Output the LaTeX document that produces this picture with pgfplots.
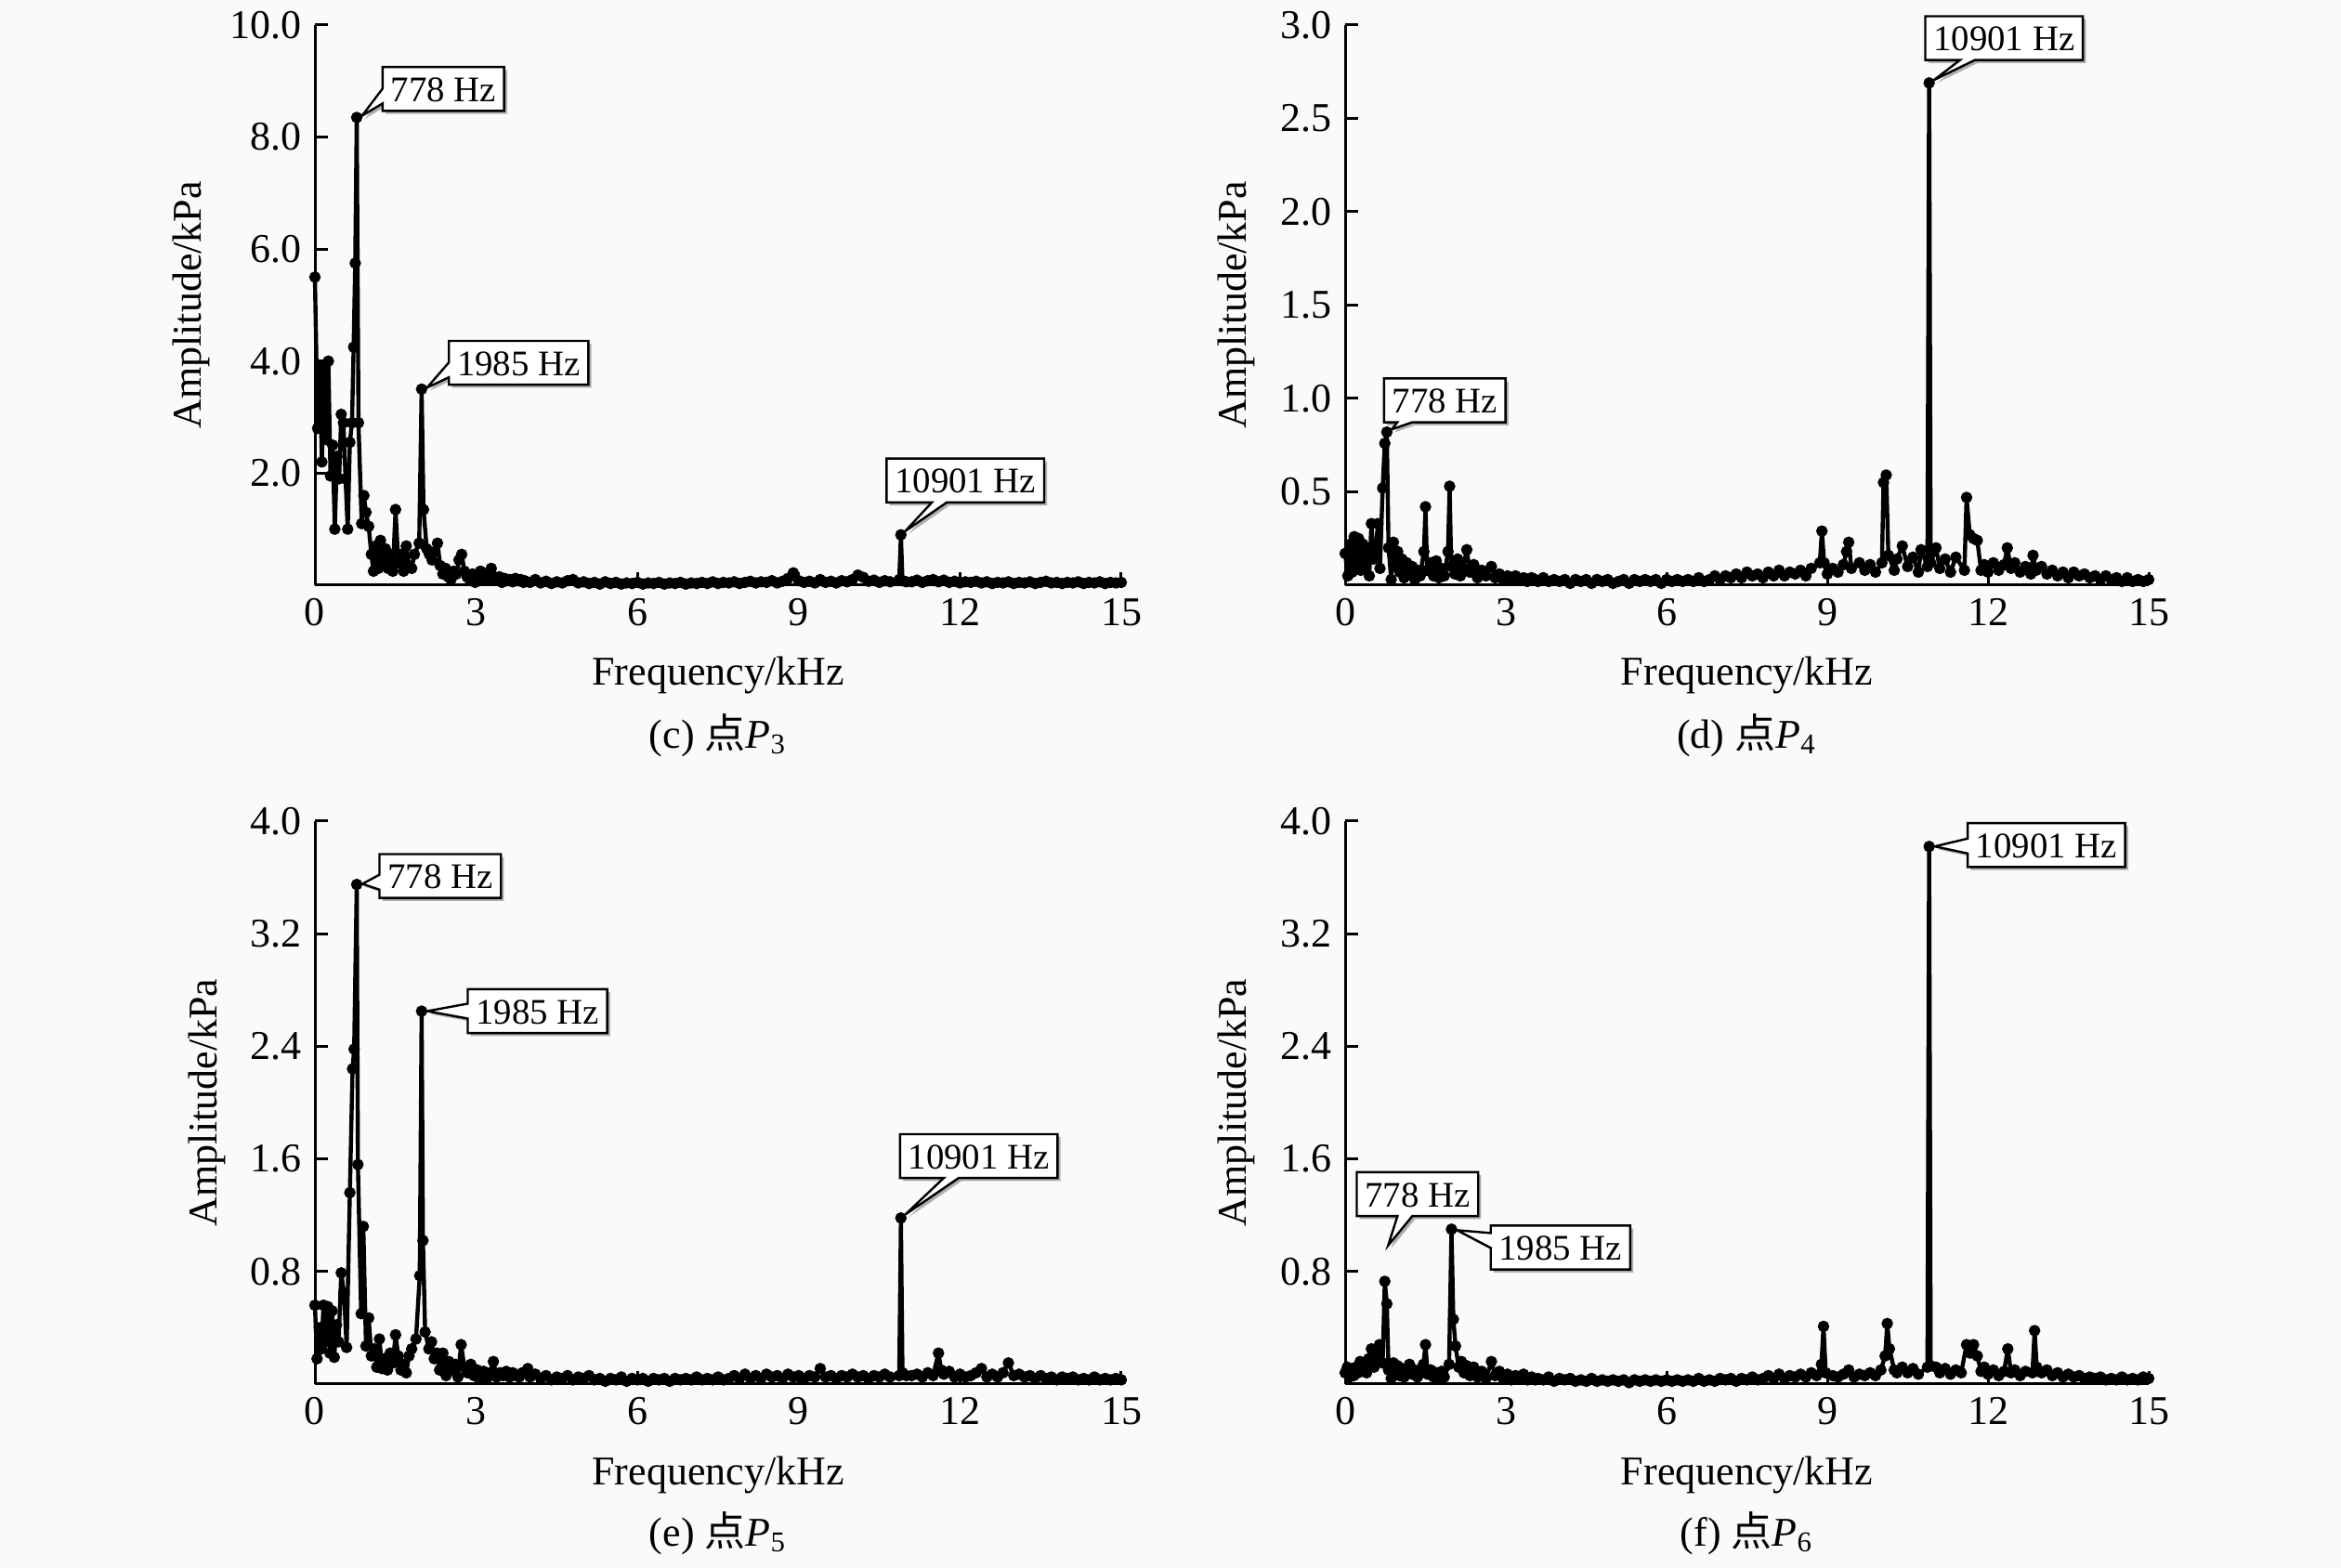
\documentclass[border=0pt]{standalone}
\usepackage{fontspec}
\setmainfont{Liberation Serif}
\newfontfamily\cjk{Noto Sans CJK SC}
\usepackage{pgfplots}
\pgfplotsset{compat=1.18}
\usetikzlibrary{shapes.callouts,shadows}
\newcommand\fs{\fontsize{11}{13}\selectfont}
\pgfplotsset{
  spec/.style={
    scale only axis, axis lines=left, axis line style={-, line width=0.75pt},
    tick align=inside, major tick length=3.5pt, tick style={line width=0.75pt, black},
    xmin=0, xmax=15, ymin=0, xtick={0,3,...,15},
    tick label style={font=\fs}, label style={font=\fs},
    /pgf/number format/assume math mode=true,
    yticklabel style={/pgf/number format/.cd, fixed, fixed zerofill, precision=1, assume math mode=true},
    xticklabel style={/pgf/number format/assume math mode=true},
    xlabel={Frequency/kHz}, ylabel={Amplitude/kPa},
    xlabel style={at={(axis description cs:0.5,-0.161)}, anchor=center},
    clip=false,
  },
  sp/.style={black, line width=1.1pt, mark=*, mark size=1.3pt, mark options={line width=0.5pt, fill=black}, line join=round},
}
\tikzset{callbox/.style={rectangle callout, draw=black, line width=0.6pt, fill=white,
  inner xsep=2.2pt, inner ysep=2.5pt, text height=6.8pt, text depth=0pt,
  font=\fontsize{9.7}{11}\selectfont, callout pointer width=4pt, callout pointer shorten=1.5pt,
  drop shadow={shadow xshift=0.8pt, shadow yshift=-0.8pt, fill=black!60}}}
\begin{document}
\begin{tikzpicture}
\fill[black!2] (0,0) rectangle (630pt,422pt);
\useasboundingbox (0,0) rectangle (630pt,422pt);
% ---------------- (c) P3
\begin{axis}[spec, at={(84.75pt,264.5pt)}, anchor=south west, width=217pt, height=150.75pt,
  ymax=10, ytick={2,4,6,8,10},
  ylabel style={at={(axis description cs:-0.153,0.5)}, anchor=center}]
\addplot[sp] coordinates {
(0.00,5.50) (0.05,2.80) (0.09,3.90) (0.13,2.20) (0.17,3.85) (0.21,2.60) (0.25,4.00) (0.29,1.95)
(0.33,2.50) (0.37,1.00) (0.41,2.30) (0.45,1.90) (0.49,3.05) (0.53,2.90) (0.57,1.90) (0.61,1.00)
(0.65,2.55) (0.69,2.90) (0.72,4.25) (0.75,5.75) (0.778,8.35) (0.81,2.90) (0.87,1.10) (0.91,1.60)
(0.95,1.30) (1.00,1.05) (1.05,0.55) (1.09,0.25) (1.13,0.70) (1.18,0.30) (1.22,0.80) (1.27,0.45)
(1.31,0.65) (1.36,0.30) (1.40,0.55) (1.45,0.25) (1.50,1.35) (1.55,0.40) (1.60,0.55) (1.65,0.25)
(1.70,0.70) (1.75,0.35) (1.80,0.30) (1.85,0.55) (1.94,0.75) (1.985,3.50) (2.02,1.35) (2.08,0.65)
(2.13,0.55) (2.18,0.45) (2.23,0.60) (2.28,0.75) (2.33,0.35) (2.38,0.20) (2.43,0.30) (2.48,0.15)
(2.53,0.10) (2.58,0.25) (2.63,0.20) (2.68,0.45) (2.73,0.55) (2.78,0.25) (2.83,0.15) (2.88,0.10)
(2.93,0.20) (2.98,0.05) (3.03,0.15) (3.08,0.25) (3.13,0.10) (3.18,0.20) (3.23,0.10) (3.28,0.30)
(3.33,0.15) (3.38,0.10) (3.43,0.15) (3.48,0.05) (3.53,0.12) (3.58,0.08) (3.63,0.10) (3.68,0.06)
(3.73,0.12) (3.78,0.08) (3.83,0.10) (3.88,0.05)
(3.9,0.08) (4.0,0.05) (4.1,0.10) (4.2,0.04) (4.3,0.07) (4.4,0.03) (4.5,0.06) (4.6,0.04) (4.7,0.08)
(4.8,0.10) (4.9,0.04) (5.0,0.06) (5.1,0.03) (5.2,0.05) (5.3,0.02) (5.4,0.06) (5.5,0.03) (5.6,0.05)
(5.7,0.02) (5.8,0.04) (5.9,0.03) (6.0,0.05) (6.1,0.02) (6.2,0.04) (6.3,0.03) (6.4,0.05) (6.5,0.02)
(6.6,0.04) (6.7,0.03) (6.8,0.05) (6.9,0.02) (7.0,0.04) (7.1,0.03) (7.2,0.05) (7.3,0.03) (7.4,0.06)
(7.5,0.03) (7.6,0.05) (7.7,0.04) (7.8,0.06) (7.9,0.03) (8.0,0.05) (8.1,0.07) (8.2,0.04) (8.3,0.06)
(8.4,0.05) (8.5,0.08) (8.6,0.04) (8.7,0.07) (8.8,0.12) (8.9,0.22) (9.0,0.08) (9.1,0.05) (9.2,0.07)
(9.3,0.04) (9.4,0.10) (9.5,0.05) (9.6,0.07) (9.7,0.04) (9.8,0.08) (9.9,0.06) (10.0,0.10) (10.1,0.18)
(10.2,0.14) (10.3,0.07) (10.4,0.09) (10.5,0.05) (10.6,0.08) (10.7,0.06) (10.87,0.10) (10.901,0.90)
(10.93,0.08) (11.0,0.06) (11.1,0.06) (11.2,0.09) (11.3,0.05) (11.4,0.08) (11.5,0.10) (11.6,0.06) (11.7,0.09)
(11.8,0.05) (11.9,0.07) (12.0,0.04) (12.1,0.06) (12.2,0.05) (12.3,0.07) (12.4,0.04) (12.5,0.06)
(12.6,0.03) (12.7,0.05) (12.8,0.04) (12.9,0.06) (13.0,0.03) (13.1,0.05) (13.2,0.04) (13.3,0.06)
(13.4,0.03) (13.5,0.05) (13.6,0.07) (13.7,0.04) (13.8,0.05) (13.9,0.03) (14.0,0.05) (14.1,0.04)
(14.2,0.06) (14.3,0.03) (14.4,0.05) (14.5,0.04) (14.6,0.06) (14.7,0.03) (14.8,0.05) (14.9,0.04) (15.0,0.05)
};
\node[callbox, callout absolute pointer={(axis cs:0.778,8.35)}] at (axis cs:2.39,8.86) {778 Hz};
\node[callbox, callout absolute pointer={(axis cs:1.985,3.50)}] at (axis cs:3.79,3.97) {1985 Hz};
\node[callbox, callout absolute pointer={(axis cs:10.901,0.90)}] at (axis cs:12.1,1.87) {10901 Hz};
\node[font=\fs] at (axis description cs:0.5,-0.268) {(c) {\cjk 点}{\itshape P}\textsubscript{3}};
\end{axis}
% ---------------- (d) P4
\begin{axis}[spec, at={(362pt,264.5pt)}, anchor=south west, width=216.25pt, height=150.75pt,
  ymax=3, ytick={0.5,1,1.5,2,2.5,3},
  ylabel style={at={(axis description cs:-0.1353,0.5)}, anchor=center}]
\addplot[sp] coordinates {
(0.00,0.17) (0.05,0.05) (0.09,0.22) (0.13,0.07) (0.17,0.26) (0.21,0.12) (0.25,0.25) (0.29,0.08)
(0.33,0.22) (0.37,0.10) (0.41,0.20) (0.45,0.05) (0.49,0.33) (0.53,0.14) (0.57,0.18) (0.61,0.33)
(0.65,0.09) (0.70,0.52) (0.74,0.76) (0.778,0.82) (0.81,0.20) (0.86,0.03) (0.90,0.23) (0.94,0.10)
(0.98,0.18) (1.02,0.07) (1.06,0.14) (1.10,0.04) (1.15,0.12) (1.20,0.06) (1.25,0.10) (1.30,0.03)
(1.35,0.08) (1.40,0.05) (1.47,0.18) (1.50,0.42) (1.53,0.08) (1.60,0.12) (1.65,0.05) (1.70,0.13)
(1.75,0.04) (1.80,0.09) (1.85,0.05) (1.92,0.18) (1.95,0.53) (1.98,0.10) (2.05,0.06) (2.10,0.14)
(2.15,0.05) (2.20,0.09) (2.27,0.19) (2.33,0.07) (2.40,0.11) (2.47,0.04) (2.55,0.08) (2.63,0.05)
(2.73,0.10) (2.80,0.04) (2.88,0.06) (2.95,0.03) (3.03,0.05) (3.10,0.03) (3.18,0.05) (3.25,0.03)
(3.33,0.04) (3.40,0.02) (3.48,0.04) (3.55,0.03)
(3.6,0.02) (3.7,0.04) (3.8,0.02) (3.9,0.03) (4.0,0.02) (4.1,0.03) (4.2,0.01) (4.3,0.03) (4.4,0.02)
(4.5,0.03) (4.6,0.01) (4.7,0.03) (4.8,0.02) (4.9,0.03) (5.0,0.01) (5.1,0.02) (5.2,0.03) (5.3,0.01)
(5.4,0.03) (5.5,0.02) (5.6,0.03) (5.7,0.02) (5.8,0.03) (5.9,0.01) (6.0,0.03) (6.1,0.02) (6.2,0.03)
(6.3,0.02) (6.4,0.03) (6.5,0.02) (6.6,0.04) (6.7,0.02) (6.8,0.03) (6.9,0.05) (7.0,0.03) (7.1,0.05)
(7.2,0.04) (7.3,0.06) (7.4,0.04) (7.5,0.07) (7.6,0.05) (7.7,0.06) (7.8,0.04) (7.9,0.07) (8.0,0.05)
(8.1,0.08) (8.2,0.05) (8.3,0.07) (8.4,0.06) (8.5,0.08) (8.6,0.05) (8.7,0.09) (8.86,0.12) (8.9,0.29)
(8.94,0.12) (9.0,0.06) (9.1,0.09) (9.2,0.07) (9.3,0.11) (9.36,0.18) (9.4,0.23) (9.45,0.09) (9.6,0.12)
(9.7,0.08) (9.8,0.11) (9.9,0.07) (10.02,0.12) (10.05,0.55) (10.1,0.59) (10.14,0.16) (10.25,0.08)
(10.3,0.14) (10.4,0.21) (10.5,0.10) (10.6,0.15) (10.7,0.07) (10.75,0.19) (10.87,0.10) (10.901,2.69)
(10.93,0.12) (11.03,0.20) (11.1,0.09) (11.2,0.14) (11.3,0.07) (11.4,0.15) (11.56,0.08) (11.6,0.47)
(11.66,0.27) (11.73,0.25) (11.8,0.24) (11.87,0.08) (11.93,0.11) (12.0,0.07) (12.1,0.12) (12.2,0.08)
(12.3,0.11) (12.36,0.20) (12.43,0.09) (12.5,0.12) (12.6,0.07) (12.7,0.10) (12.8,0.06) (12.84,0.16)
(12.9,0.08) (13.0,0.10) (13.1,0.06) (13.2,0.08) (13.3,0.05) (13.4,0.07) (13.5,0.04) (13.6,0.07)
(13.7,0.05) (13.8,0.06) (13.9,0.04) (14.0,0.05) (14.1,0.03) (14.2,0.05) (14.3,0.03) (14.4,0.04)
(14.5,0.02) (14.6,0.04) (14.7,0.02) (14.8,0.03) (14.9,0.02) (15.0,0.03)
};
\node[callbox, callout absolute pointer={(axis cs:10.901,2.69)}] at (axis cs:12.3,2.93) {10901 Hz};
\node[callbox, callout absolute pointer={(axis cs:0.778,0.82)}] at (axis cs:1.86,0.99) {778 Hz};
\node[font=\fs] at (axis description cs:0.5,-0.268) {(d) {\cjk 点}{\itshape P}\textsubscript{4}};
\end{axis}
% ---------------- (e) P5
\begin{axis}[spec, at={(84.75pt,49.5pt)}, anchor=south west, width=217pt, height=151.5pt,
  ymax=4, ytick={0.8,1.6,2.4,3.2,4.0},
  ylabel style={at={(axis description cs:-0.1336,0.5)}, anchor=center}]
\addplot[sp] coordinates {
(0.00,0.56) (0.04,0.18) (0.08,0.40) (0.12,0.25) (0.16,0.56) (0.20,0.30) (0.24,0.55) (0.28,0.22)
(0.32,0.52) (0.36,0.19) (0.40,0.42) (0.44,0.30) (0.49,0.79) (0.54,0.65) (0.59,0.26) (0.65,1.36)
(0.70,2.24) (0.73,2.38) (0.778,3.55) (0.80,1.56) (0.86,0.50) (0.90,1.12) (0.95,0.27) (1.00,0.47)
(1.05,0.20) (1.10,0.25) (1.15,0.12) (1.20,0.32) (1.25,0.11) (1.30,0.18) (1.35,0.10) (1.40,0.22)
(1.45,0.15) (1.50,0.35) (1.55,0.20) (1.60,0.10) (1.65,0.14) (1.70,0.08) (1.75,0.20) (1.80,0.25)
(1.88,0.32) (1.95,0.77) (1.985,2.65) (2.01,1.02) (2.05,0.37) (2.12,0.25) (2.17,0.30) (2.22,0.18)
(2.27,0.22) (2.32,0.10) (2.38,0.22) (2.44,0.06) (2.49,0.16) (2.55,0.10) (2.61,0.14) (2.66,0.05)
(2.72,0.28) (2.78,0.12) (2.84,0.08) (2.90,0.14) (2.96,0.06) (3.02,0.10) (3.08,0.05) (3.14,0.09)
(3.20,0.04) (3.26,0.08) (3.32,0.16) (3.38,0.05) (3.44,0.08) (3.50,0.06) (3.56,0.09) (3.62,0.05)
(3.68,0.08) (3.74,0.06) (3.80,0.05) (3.86,0.08) (3.96,0.11)
(4.0,0.05) (4.1,0.07) (4.2,0.04) (4.3,0.06) (4.4,0.03) (4.5,0.05) (4.6,0.04) (4.7,0.06) (4.8,0.03)
(4.9,0.05) (5.0,0.04) (5.1,0.06) (5.2,0.03) (5.3,0.04) (5.4,0.02) (5.5,0.04) (5.6,0.03) (5.7,0.05)
(5.8,0.02) (5.9,0.04) (6.0,0.03) (6.1,0.04) (6.2,0.02) (6.3,0.04) (6.4,0.03) (6.5,0.04) (6.6,0.02)
(6.7,0.04) (6.8,0.03) (6.9,0.04) (7.0,0.03) (7.1,0.05) (7.2,0.03) (7.3,0.04) (7.4,0.03) (7.5,0.05)
(7.6,0.03) (7.7,0.04) (7.8,0.06) (7.9,0.04) (8.0,0.07) (8.1,0.04) (8.2,0.06) (8.3,0.04) (8.4,0.07)
(8.5,0.05) (8.6,0.06) (8.7,0.04) (8.8,0.07) (8.9,0.05) (9.0,0.06) (9.1,0.04) (9.2,0.06) (9.3,0.05)
(9.4,0.11) (9.5,0.05) (9.6,0.06) (9.7,0.04) (9.8,0.06) (9.9,0.05) (10.0,0.07) (10.1,0.05) (10.2,0.06)
(10.3,0.04) (10.4,0.06) (10.5,0.05) (10.6,0.07) (10.7,0.05) (10.87,0.06) (10.901,1.18) (10.93,0.08)
(11.0,0.06) (11.1,0.06) (11.2,0.07) (11.3,0.05) (11.4,0.08) (11.5,0.06) (11.6,0.22) (11.65,0.10) (11.7,0.07)
(11.8,0.09) (11.9,0.05) (12.0,0.07) (12.1,0.05) (12.2,0.06) (12.3,0.08) (12.4,0.11) (12.5,0.05)
(12.6,0.07) (12.7,0.05) (12.8,0.08) (12.9,0.15) (13.0,0.06) (13.1,0.07) (13.2,0.05) (13.3,0.06)
(13.4,0.04) (13.5,0.06) (13.6,0.04) (13.7,0.05) (13.8,0.03) (13.9,0.05) (14.0,0.04) (14.1,0.05)
(14.2,0.03) (14.3,0.04) (14.4,0.03) (14.5,0.05) (14.6,0.03) (14.7,0.04) (14.8,0.03) (14.9,0.04) (15.0,0.03)
};
\node[callbox, callout absolute pointer={(axis cs:0.778,3.55)}] at (axis cs:2.33,3.61) {778 Hz};
\node[callbox, callout absolute pointer={(axis cs:1.985,2.65)}] at (axis cs:4.14,2.65) {1985 Hz};
\node[callbox, callout absolute pointer={(axis cs:10.901,1.18)}] at (axis cs:12.35,1.62) {10901 Hz};
\node[font=\fs] at (axis description cs:0.5,-0.265) {(e) {\cjk 点}{\itshape P}\textsubscript{5}};
\end{axis}
% ---------------- (f) P6
\begin{axis}[spec, at={(362pt,49.5pt)}, anchor=south west, width=216.25pt, height=151.5pt,
  ymax=4, ytick={0.8,1.6,2.4,3.2,4.0},
  ylabel style={at={(axis description cs:-0.1353,0.5)}, anchor=center}]
\addplot[sp] coordinates {
(0.00,0.08) (0.04,0.12) (0.08,0.05) (0.12,0.10) (0.16,0.06) (0.20,0.12) (0.24,0.08) (0.28,0.16)
(0.32,0.10) (0.36,0.14) (0.40,0.08) (0.44,0.18) (0.49,0.25) (0.54,0.12) (0.59,0.20) (0.64,0.28)
(0.70,0.15) (0.74,0.73) (0.778,0.57) (0.81,0.10) (0.86,0.04) (0.90,0.15) (0.94,0.08) (0.98,0.13)
(1.02,0.06) (1.06,0.11) (1.10,0.05) (1.15,0.09) (1.20,0.14) (1.25,0.07) (1.30,0.10) (1.35,0.05)
(1.40,0.09) (1.46,0.14) (1.50,0.28) (1.54,0.07) (1.60,0.10) (1.65,0.05) (1.70,0.08) (1.75,0.04)
(1.80,0.09) (1.85,0.05) (1.94,0.14) (1.985,1.10) (2.02,0.46) (2.06,0.27) (2.12,0.12) (2.17,0.16)
(2.22,0.08) (2.27,0.13) (2.33,0.06) (2.40,0.12) (2.47,0.05) (2.55,0.09) (2.63,0.04) (2.73,0.16)
(2.80,0.06) (2.88,0.09) (2.95,0.04) (3.03,0.07) (3.10,0.03) (3.18,0.06) (3.25,0.04) (3.33,0.07)
(3.40,0.03) (3.48,0.05) (3.55,0.03)
(3.6,0.04) (3.7,0.03) (3.8,0.05) (3.9,0.02) (4.0,0.04) (4.1,0.03) (4.2,0.04) (4.3,0.02) (4.4,0.03)
(4.5,0.02) (4.6,0.04) (4.7,0.02) (4.8,0.03) (4.9,0.02) (5.0,0.03) (5.1,0.02) (5.2,0.03) (5.3,0.01)
(5.4,0.03) (5.5,0.02) (5.6,0.03) (5.7,0.02) (5.8,0.03) (5.9,0.02) (6.0,0.03) (6.1,0.02) (6.2,0.03)
(6.3,0.02) (6.4,0.03) (6.5,0.02) (6.6,0.04) (6.7,0.02) (6.8,0.03) (6.9,0.02) (7.0,0.04) (7.1,0.03)
(7.2,0.04) (7.3,0.02) (7.4,0.04) (7.5,0.03) (7.6,0.05) (7.7,0.03) (7.8,0.04) (7.9,0.06) (8.0,0.04)
(8.1,0.07) (8.2,0.04) (8.3,0.06) (8.4,0.05) (8.5,0.07) (8.6,0.05) (8.7,0.08) (8.8,0.06) (8.89,0.14)
(8.93,0.41) (8.97,0.08) (9.1,0.06) (9.2,0.05) (9.3,0.07) (9.4,0.10) (9.5,0.05) (9.6,0.07) (9.7,0.06)
(9.8,0.08) (9.9,0.06) (10.0,0.10) (10.08,0.20) (10.12,0.43) (10.16,0.25) (10.25,0.10) (10.3,0.08)
(10.4,0.12) (10.5,0.08) (10.6,0.11) (10.7,0.07) (10.87,0.12) (10.901,3.82) (10.93,0.13) (11.03,0.12)
(11.1,0.08) (11.2,0.11) (11.3,0.07) (11.4,0.10) (11.5,0.08) (11.6,0.28) (11.67,0.22) (11.73,0.28)
(11.8,0.20) (11.87,0.09) (11.93,0.12) (12.0,0.07) (12.1,0.10) (12.2,0.06) (12.3,0.09) (12.37,0.25)
(12.43,0.08) (12.5,0.10) (12.6,0.06) (12.7,0.09) (12.83,0.08) (12.87,0.38) (12.91,0.12) (13.0,0.08)
(13.1,0.10) (13.2,0.06) (13.3,0.08) (13.4,0.05) (13.5,0.07) (13.6,0.05) (13.7,0.06) (13.8,0.04)
(13.9,0.05) (14.0,0.04) (14.1,0.05) (14.2,0.03) (14.3,0.04) (14.4,0.03) (14.5,0.05) (14.6,0.03)
(14.7,0.04) (14.8,0.03) (14.9,0.05) (15.0,0.04)
};
\node[callbox, callout absolute pointer={(axis cs:10.901,3.82)}] at (axis cs:13.09,3.83) {10901 Hz};
\node[callbox, callout absolute pointer={(axis cs:0.75,0.95)}] at (axis cs:1.35,1.35) {778 Hz};
\node[callbox, callout absolute pointer={(axis cs:1.985,1.10)}] at (axis cs:4.02,0.97) {1985 Hz};
\node[font=\fs] at (axis description cs:0.5,-0.265) {(f) {\cjk 点}{\itshape P}\textsubscript{6}};
\end{axis}
\end{tikzpicture}
\end{document}
